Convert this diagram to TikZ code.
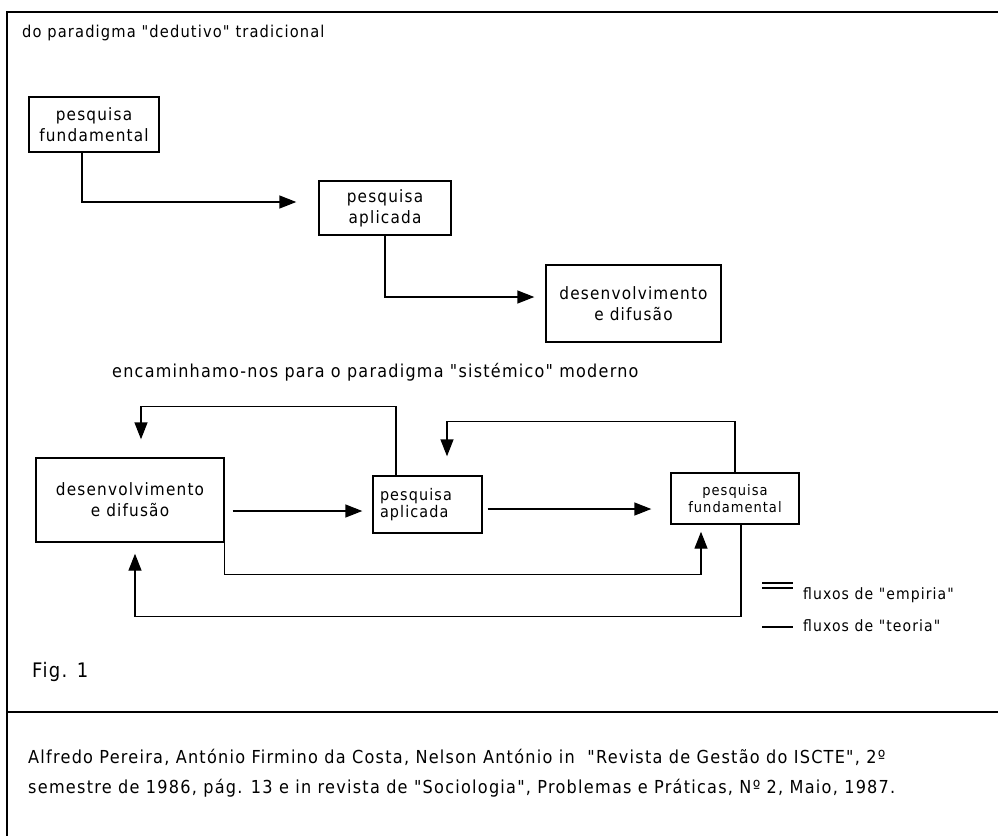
\documentclass[tikz,border=0pt]{standalone}
\usepackage{fontspec}
\setmainfont[LetterSpace=7,Ligatures=TeXOff]{DejaVu Sans Condensed}
\usetikzlibrary{arrows.meta,calc}

\begin{document}
\begin{tikzpicture}[x=1pt,y=-1pt]
\tikzset{
  frameline/.style={line width=1.6pt},
  box/.style={draw,line width=1.4pt,inner sep=0pt,align=center,
              font=\fontsize{17}{21}\selectfont},
  flow/.style={draw,line width=1.4pt,-{Triangle[length=17pt,width=13pt]}},
  label/.style={anchor=base west,inner sep=0pt},
}
% page area
\fill[white] (0,0) rectangle (998,836);
\useasboundingbox (0,0) rectangle (998,836);

% outer frame and separator above the reference note
\draw[frameline] (998,12) -- (7,12) -- (7,836);
\draw[frameline] (7,712) -- (998,712);

% ---- traditional "deductive" chain ----
\node[label,font=\fontsize{16.3}{19}\selectfont] (title) at (22,37.5)
  {do paradigma "dedutivo" tradicional};

\node[box,minimum width=130pt,minimum height=55pt] (tf) at (94,124.5)
  {pesquisa\\fundamental};
\node[box,minimum width=132pt,minimum height=54pt] (ta) at (385,208)
  {pesquisa\\aplicada};
\node[box,minimum width=175pt,minimum height=77pt] (td) at (633.5,303.5)
  {desenvolvimento\\e difusão};

\draw[flow,shorten >=22pt] ([xshift=-12pt]tf.south) |- ([yshift=6pt]ta.west);
\draw[flow,shorten >=11pt] (ta.south) |- ([yshift=6.5pt]td.west);

% ---- modern "systemic" loop ----
\node[label,font=\fontsize{17.8}{21}\selectfont] (enc) at (112,377)
  {encaminhamo-nos para o paradigma "sistémico" moderno};

\node[box,minimum width=188pt,minimum height=84pt] (bd) at (130,500)
  {desenvolvimento\\e difusão};
\node[box,minimum width=109pt,minimum height=57pt,align=left,
      font=\fontsize{16}{17}\selectfont,text width=95pt] (ba) at (427.5,504.5)
  {pesquisa\\aplicada};
\node[box,minimum width=128pt,minimum height=51pt,
      font=\fontsize{14.5}{17}\selectfont] (bf) at (735,498.5)
  {pesquisa\\fundamental};

% forward flows
\draw[flow,shorten <=8pt,shorten >=10pt]
  ([yshift=-11pt]bd.east) -- ([yshift=-11pt]bd.east -| ba.west);
\draw[flow,shorten <=5pt,shorten >=19pt]
  ([yshift=-4.5pt]ba.east) -- ([yshift=-4.5pt]ba.east -| bf.west);

% return flows over the top
\draw[flow,shorten >=18pt]
  ([xshift=-31.5pt]ba.north) -- ++(0,-69) -| ([xshift=11pt]bd.north);
\draw[flow,shorten >=19pt]
  (bf.north) -- ++(0,-51) -| ([xshift=19.5pt]ba.north);

% flows underneath
\draw[flow,shorten >=7pt]
  (bd.south east) -- ++(0,32) -| ([xshift=-34pt]bf.south);
\draw[flow,shorten >=11pt]
  ([xshift=6pt]bf.south) -- ++(0,92) -| ([xshift=5pt]bd.south);

% legend
\coordinate (e1) at (762,583); \coordinate (e2) at (793,583);
\coordinate (e3) at (762,588); \coordinate (e4) at (793,588);
\coordinate (t1) at (762,627); \coordinate (t2) at (793,627);
\draw[line width=1.3pt] (e1) -- (e2) (e3) -- (e4);
\draw[line width=1.3pt] (t1) -- (t2);
\node[label,font=\fontsize{15.6}{18}\selectfont] (lemp) at (803,599)
  {fluxos de "empiria"};
\node[label,font=\fontsize{15.6}{18}\selectfont] (lteo) at (803,631)
  {fluxos de "teoria"};

\node[label,font=\fontsize{20}{24}\selectfont] (fig) at (32,677) {Fig. 1};

% reference note
\node[label,font=\fontsize{17.9}{21}\selectfont] (ref1) at (28,763)
  {Alfredo Pereira, António Firmino da Costa, Nelson António in~~"Revista de Gestão do ISCTE", 2º};
\node[label,font=\fontsize{17.9}{21}\selectfont] (ref2) at (28,793)
  {semestre de 1986, pág. 13 e in revista de "Sociologia", Problemas e Práticas, Nº 2, Maio, 1987.};
\end{tikzpicture}
\end{document}
